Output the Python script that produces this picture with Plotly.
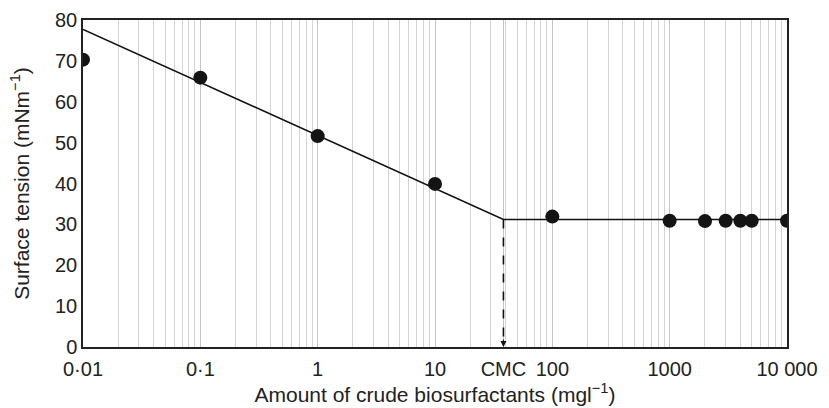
import math
import plotly.graph_objects as go

# data
conc = [0.01, 0.1, 1, 10, 100, 1000, 2000, 3000, 4000, 5000, 10000]
tension = [70.3, 65.9, 51.6, 39.9, 31.9, 30.9, 30.8, 30.9, 30.9, 30.9, 30.9]

fit_x = [0.01, 38.3, 10000]
fit_y = [77.7, 31.2, 31.2]

cmc_value = 38.3
cmc_tension = 31.2

tick_vals = [0.01, 0.1, 1, 10, 38.3, 100, 1000, 10000]
tick_text = ["0·01", "0·1", "1", "10", "CMC", "100", "1000", "10 000"]

FONT = "Liberation Sans, Arial, Helvetica, sans-serif"
INK = "#222222"

fig = go.Figure()

fig.add_trace(go.Scatter(x=fit_x, y=fit_y, mode="lines",
                         line=dict(color="#111111", width=1.6), hoverinfo="skip"))
fig.add_trace(go.Scatter(x=[cmc_value, cmc_value], y=[cmc_tension, 0.6], mode="lines",
                         line=dict(color="#111111", width=1.6, dash="dash"), hoverinfo="skip"))
fig.add_trace(go.Scatter(x=conc, y=tension, mode="markers",
                         marker=dict(color="#141414", size=14, line=dict(width=0))))

fig.add_annotation(x=math.log10(cmc_value), y=0, xref="x", yref="y",
                   ax=0, ay=-9, showarrow=True, arrowhead=2, arrowsize=1,
                   arrowwidth=1.2, arrowcolor="#111111", text="")

fig.update_xaxes(type="log", range=[-2, 4], automargin=False,
                 tickvals=tick_vals, ticktext=tick_text, ticks="",
                 ticklabelstandoff=3,
                 showgrid=True, gridcolor="#c4c4c4", gridwidth=1,
                 minor=dict(showgrid=True, gridcolor="#d4d4d4", gridwidth=1,
                            ticks="", dtick="D1"),
                 showline=True, linecolor=INK, linewidth=1.5, mirror=True,
                 tickfont=dict(family=FONT, size=20, color=INK),
                 title=dict(text="Amount of crude biosurfactants (mgl<sup>−1</sup>)",
                            font=dict(family=FONT, size=21, color=INK), standoff=4),
                 zeroline=False)
fig.update_yaxes(range=[0, 80], dtick=10, ticks="", showgrid=False, automargin=False,
                 showline=True, linecolor=INK, linewidth=1.5, mirror=True,
                 tickfont=dict(family=FONT, size=20, color=INK),
                 title=dict(text="Surface tension (mNm<sup>−1</sup>)",
                            font=dict(family=FONT, size=21, color=INK), standoff=20),
                 zeroline=False)

fig.update_layout(width=829, height=408, showlegend=False,
                  plot_bgcolor="white", paper_bgcolor="white",
                  margin=dict(l=83, r=42, t=20, b=61))

fig.write_html("out.html", config={"displayModeBar": False},
               post_script="document.body.style.margin='0';document.body.style.overflow='hidden';")
